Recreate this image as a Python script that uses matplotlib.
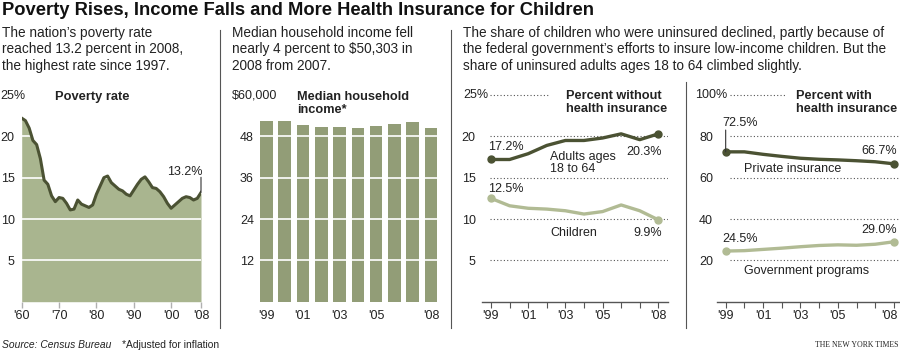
import matplotlib
matplotlib.use("Agg")
import matplotlib.pyplot as plt
import matplotlib.transforms as mtransforms

plt.rcParams['font.family'] = ['Liberation Sans', 'DejaVu Sans']

W, H = 900, 354

# --- data ---
pov_years = list(range(1960, 2009))
pov_rate = [22.2, 21.9, 21.0, 19.5, 19.0, 17.3, 14.7, 14.2, 12.8, 12.1,
            12.6, 12.5, 11.9, 11.1, 11.2, 12.3, 11.8, 11.6, 11.4, 11.7,
            13.0, 14.0, 15.0, 15.2, 14.4, 14.0, 13.6, 13.4, 13.0, 12.8,
            13.5, 14.2, 14.8, 15.1, 14.5, 13.8, 13.7, 13.3, 12.7, 11.9,
            11.3, 11.7, 12.1, 12.5, 12.7, 12.6, 12.3, 12.5, 13.2]
pov_ticks = [1960, 1970, 1980, 1990, 2000, 2008]
pov_tick_labels = ["'60", "'70", "'80", "'90", "'00", "'08"]

inc_years = list(range(1999, 2009))
inc_median = [52587, 52500, 51356, 50756, 50711, 50535, 51093, 51473, 52163, 50303]

ins_years = list(range(1999, 2009))
unins_adults = [17.2, 17.2, 17.9, 18.9, 19.5, 19.5, 19.8, 20.3, 19.6, 20.3]
unins_children = [12.5, 11.6, 11.3, 11.2, 11.0, 10.6, 10.9, 11.7, 11.0, 9.9]
cov_private = [72.5, 72.5, 71.3, 70.3, 69.4, 68.9, 68.6, 68.2, 67.7, 66.7]
cov_government = [24.5, 24.7, 25.3, 25.9, 26.6, 27.2, 27.5, 27.3, 27.8, 29.0]

short_ticks = [1999, 2001, 2003, 2005, 2008]
short_labels = ["'99", "'01", "'03", "'05", "'08"]

# --- colours ---
DARK = '#4b5233'
FILL = '#a9b58f'
BAR = '#929d77'
LIGHT = '#b1bb94'
TXT = '#222222'
GRID = '#555555'
RULE = '#555555'

fig = plt.figure(figsize=(9, 3.54), dpi=100)
fig.patch.set_facecolor('white')


def box(x0, y0, x1, y1):
    # pixel box (top-left origin) -> figure coords
    return [x0 / W, 1 - y1 / H, (x1 - x0) / W, (y1 - y0) / H]


def ftext(x, y, s, **kw):
    kw.setdefault('color', TXT)
    return fig.text(x / W, 1 - y / H, s, **kw)


def clean(ax):
    for s in ax.spines.values():
        s.set_visible(False)
    ax.set_facecolor('none')
    ax.tick_params(labelsize=9, labelcolor=TXT)


def pct_label(ax, x, v, dx, dy, ha):
    ax.annotate(f'{v:.1f}%', xy=(x, v), xytext=(dx, dy), textcoords='offset points',
                ha=ha, va='center', fontsize=9, color=TXT)


# --- header ---
ftext(2, 2, "Poverty Rises, Income Falls and More Health Insurance for Children",
      fontsize=13.2, fontweight='bold', va='top', color='#111111')
ftext(2, 49.5, "The nation\u2019s poverty rate\nreached 13.2 percent in 2008,\nthe highest rate since 1997.",
      fontsize=9.8, va='center')
ftext(232, 49.5, "Median household income fell\nnearly 4 percent to $50,303 in\n2008 from 2007.",
      fontsize=9.8, va='center')
ftext(463, 49.5, "The share of children who were uninsured declined, partly because of\n"
      "the federal government\u2019s efforts to insure low-income children. But the\n"
      "share of uninsured adults ages 18 to 64 climbed slightly.",
      fontsize=9.8, va='center')

# panel dividers
for x, y0 in [(219.5, 30), (451, 30), (686, 82)]:
    fig.add_artist(plt.Line2D([x / W, x / W], [1 - y0 / H, 1 - 328 / H], color=RULE, lw=0.8))

# --- panel 1: poverty rate ---
ax1 = fig.add_axes(box(21.7, 95, 201, 301.7))
clean(ax1)
ax1.fill_between(pov_years, pov_rate, color=FILL, lw=0, zorder=1)
for g in [5, 10, 15, 20]:
    ax1.axhline(g, color='white', lw=1.2, zorder=2)
ax1.plot(pov_years, pov_rate, color=DARK, lw=2.2, zorder=3, solid_joinstyle='round')
ax1.set_xlim(1960, 2008)
ax1.set_ylim(0, 25)
ax1.set_yticks([5, 10, 15, 20])
ax1.tick_params(axis='y', length=0, pad=5)
ax1.set_xticks(pov_ticks, pov_tick_labels)
ax1.tick_params(axis='x', length=4.3, width=1, color='#b0b0b0', pad=1.5)
ax1.annotate('', xy=(pov_years[-1], pov_rate[-1]), xytext=(0, 11), textcoords='offset points',
             arrowprops=dict(arrowstyle='-', color='#333333', lw=0.8, shrinkA=0, shrinkB=0))
pct_label(ax1, pov_years[-1], pov_rate[-1], 1.4, 14.8, 'right')
ftext(0, 96, "25%", fontsize=9, va='center')
ftext(55, 97, "Poverty rate", fontsize=9.3, fontweight='bold', va='center')

# --- panel 2: median income ---
ax2 = fig.add_axes(box(257.2, 95, 440.2, 301.7))
clean(ax2)
ax2.bar(inc_years, [v / 1000 for v in inc_median], width=0.69, color=BAR, zorder=1)
for g in [12, 24, 36, 48]:
    ax2.axhline(g, color='white', lw=1.2, zorder=2)
ax2.set_xlim(1998.5, 2008.5)
ax2.set_ylim(0, 60)
ax2.set_yticks([12, 24, 36, 48])
ax2.tick_params(axis='y', length=0, pad=2.4)
ax2.set_xticks(short_ticks, short_labels)
ax2.tick_params(axis='x', length=0, pad=5.8)
ftext(232, 95, "$60,000", fontsize=9, va='center')
ftext(297, 103.5, "Median household\nincome*", fontsize=9.2, fontweight='bold', va='center',
      linespacing=1.05)

# --- panel 3: percent without insurance ---
ax3 = fig.add_axes(box(481.7, 95, 668, 301.7))
clean(ax3)
ax3.spines['bottom'].set_visible(True)
ax3.spines['bottom'].set_color(RULE)
ax3.spines['bottom'].set_linewidth(1)
for g in [5, 10, 15, 20]:
    ax3.axhline(g, xmin=0.045, color=GRID, lw=0.8, ls=(0, (1, 2)))
ax3.axhline(25, xmin=0.045, xmax=0.367, color=GRID, lw=0.8, ls=(0, (1, 2)), clip_on=False)
ax3.plot(ins_years, unins_adults, color=DARK, lw=2.4, marker='o', ms=5,
         markevery=[0, len(ins_years) - 1], zorder=3, clip_on=False)
ax3.plot(ins_years, unins_children, color=LIGHT, lw=2.4, marker='o', ms=5,
         markevery=[0, len(ins_years) - 1], zorder=3, clip_on=False)
ax3.set_xlim(1998.5, 2008.52)
ax3.set_ylim(0, 25)
ax3.set_yticks([5, 10, 15, 20])
ax3.tick_params(axis='y', length=0, pad=4.3)
ax3.set_xticks(ins_years, [short_labels[short_ticks.index(y)] if y in short_ticks else '' for y in ins_years])
ax3.tick_params(axis='x', length=4.3, width=0.8, color=RULE, pad=1.5)
pct_label(ax3, ins_years[0], unins_adults[0], -2.2, 9, 'left')
pct_label(ax3, ins_years[-1], unins_adults[-1], 2.7, -13, 'right')
pct_label(ax3, ins_years[0], unins_children[0], -2.2, 6.7, 'left')
pct_label(ax3, ins_years[-1], unins_children[-1], 2.7, -9.5, 'right')
ax3.text(2002.17, 16.8, "Adults ages\n18 to 64", fontsize=9, color=TXT, va='center', linespacing=0.95)
ax3.text(2002.17, 8.3, "Children", fontsize=9, color=TXT, va='center')
ftext(463, 95, "25%", fontsize=9, va='center')
ftext(566.5, 102.5, "Percent without\nhealth insurance", fontsize=9.2, fontweight='bold',
      va='center', linespacing=1.05)

# --- panel 4: percent with insurance ---
ax4 = fig.add_axes(box(716.7, 95, 899, 301.7))
clean(ax4)
ax4.spines['bottom'].set_visible(True)
ax4.spines['bottom'].set_color(RULE)
ax4.spines['bottom'].set_linewidth(1)
for g in [20, 40, 60, 80]:
    ax4.axhline(g, xmin=0.073, color=GRID, lw=0.8, ls=(0, (1, 2)))
ax4.axhline(100, xmin=0.073, xmax=0.375, color=GRID, lw=0.8, ls=(0, (1, 2)), clip_on=False)
ax4.plot(ins_years, cov_private, color=DARK, lw=2.4, marker='o', ms=5,
         markevery=[0, len(ins_years) - 1], zorder=3, clip_on=False)
ax4.plot(ins_years, cov_government, color=LIGHT, lw=2.4, marker='o', ms=5,
         markevery=[0, len(ins_years) - 1], zorder=3, clip_on=False)
ax4.set_xlim(1998.52, 2008.27)
ax4.set_ylim(0, 100)
ax4.set_yticks([20, 40, 60, 80])
ax4.tick_params(axis='y', length=0, pad=2.7)
ax4.set_xticks(ins_years, [short_labels[short_ticks.index(y)] if y in short_ticks else '' for y in ins_years])
ax4.tick_params(axis='x', length=4.3, width=0.8, color=RULE, pad=1.5)
# last year label sits a little left of its tick so it stays inside the frame
last_lbl = ax4.get_xticklabels()[-1]
last_lbl.set_transform(last_lbl.get_transform() +
                       mtransforms.ScaledTranslation(-5 / 100, 0, fig.dpi_scale_trans))
ax4.annotate('', xy=(ins_years[0], cov_private[0]), xytext=(0, 15.7), textcoords='offset points',
             arrowprops=dict(arrowstyle='-', color='#333333', lw=0.8, shrinkA=0, shrinkB=0))
pct_label(ax4, ins_years[0], cov_private[0], -2.7, 20.7, 'left')
pct_label(ax4, ins_years[-1], cov_private[-1], 2.2, 9.2, 'right')
pct_label(ax4, ins_years[0], cov_government[0], -2.7, 8.7, 'left')
pct_label(ax4, ins_years[-1], cov_government[-1], 2.2, 8.5, 'right')
ax4.text(1999.98, 64.2, "Private insurance", fontsize=9, color=TXT, va='center')
ax4.text(1999.98, 14.9, "Government programs", fontsize=9, color=TXT, va='center')
ftext(695, 95, "100%", fontsize=9, va='center')
ftext(796, 102.5, "Percent with\nhealth insurance", fontsize=9.2, fontweight='bold',
      va='center', linespacing=1.05)

# --- footer ---
ftext(2, 345, "Source: Census Bureau", fontsize=7.4, style='italic', va='center')
ftext(122, 345, "*Adjusted for inflation", fontsize=7.4, va='center')
ftext(898, 345, "THE NEW YORK TIMES", fontsize=5.6, family='Liberation Serif', ha='right', va='center')

fig.savefig('out.png', dpi=100)
